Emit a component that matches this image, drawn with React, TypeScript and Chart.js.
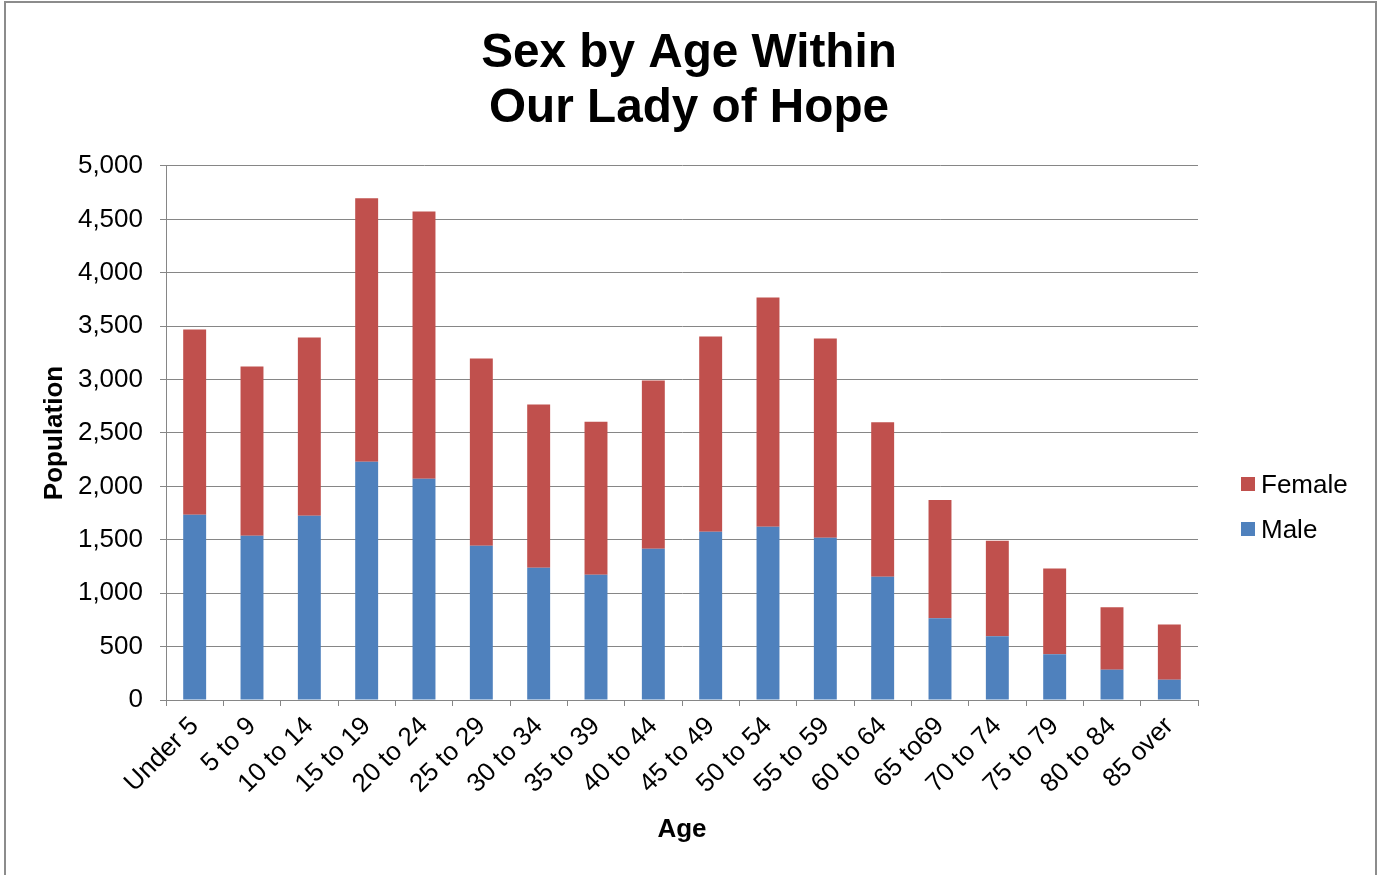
import React, { useEffect, useRef } from "react";
import { Chart, registerables } from "chart.js";

Chart.register(...registerables);

const categories = [
  "Under 5", "5 to 9", "10 to 14", "15 to 19", "20 to 24", "25 to 29",
  "30 to 34", "35 to 39", "40 to 44", "45 to 49", "50 to 54", "55 to 59",
  "60 to 64", "65 to69", "70 to 74", "75 to 79", "80 to 84", "85 over",
];

const maleValues = [
  1734, 1538, 1725, 2231, 2072, 1444, 1238, 1172, 1416, 1575, 1622, 1519,
  1153, 766, 597, 428, 284, 190,
];

const femaleValues = [
  1735, 1584, 1669, 2466, 2503, 1753, 1528, 1434, 1575, 1828, 2147, 1865,
  1447, 1106, 894, 803, 585, 516,
];

const titleLines = ["Sex by Age Within", "Our Lady of Hope"];
const seriesNames = { male: "Male", female: "Female" };
const colors = { male: "#4F81BD", female: "#C0504D" };

const FONT = "'Liberation Sans', Arial, Helvetica, sans-serif";
const GRID = "#868686";

export default function App() {
  const ref = useRef<HTMLCanvasElement>(null);

  useEffect(() => {
    document.body.style.margin = "0";
    const chart = new Chart(ref.current!, {
      type: "bar",
      data: {
        labels: categories,
        datasets: [
          {
            label: seriesNames.male,
            data: maleValues,
            backgroundColor: colors.male,
            categoryPercentage: 0.8,
            barPercentage: 0.5,
          },
          {
            label: seriesNames.female,
            data: femaleValues,
            backgroundColor: colors.female,
            categoryPercentage: 0.8,
            barPercentage: 0.5,
          },
        ],
      },
      options: {
        responsive: false,
        animation: false,
        layout: { padding: { left: 0, right: 0, top: 0, bottom: 30 } },
        plugins: {
          legend: { display: false },
          tooltip: { enabled: false },
          title: {
            display: true,
            text: titleLines,
            color: "#000",
            font: { family: FONT, size: 47.7, weight: "bold", lineHeight: 1.153 },
            padding: { top: 26.5, bottom: 29.5 },
          },
        },
        scales: {
          x: {
            stacked: true,
            grid: {
              display: true,
              drawOnChartArea: false,
              offset: true,
              tickLength: 6,
              color: GRID,
              lineWidth: 1,
            },
            border: { color: GRID, width: 1 },
            ticks: {
              color: "#000",
              font: { family: FONT, size: 26 },
              maxRotation: 45,
              minRotation: 45,
              autoSkip: false,
              padding: 5,
            },
            title: {
              display: true,
              text: "Age",
              color: "#000",
              font: { family: FONT, size: 26, weight: "bold" },
              padding: 0,
            },
            afterFit: (s: any) => {
              s.height = 145;
            },
          },
          y: {
            stacked: true,
            min: 0,
            max: 5000,
            grid: { color: GRID, tickLength: 6, lineWidth: 1 },
            border: { color: GRID, width: 1 },
            ticks: {
              stepSize: 500,
              color: "#000",
              font: { family: FONT, size: 26 },
              padding: 17,
              callback: (v: any) => Number(v).toLocaleString("en-US"),
            },
            title: {
              display: true,
              text: "Population",
              color: "#000",
              font: { family: FONT, size: 26, weight: "bold" },
              padding: { top: 39.4, bottom: 0 },
            },
            afterFit: (s: any) => {
              s.width = 166;
            },
          },
          legendSpace: {
            type: "linear",
            position: "right",
            display: true,
            grid: { display: false, drawTicks: false },
            border: { display: false },
            ticks: { display: false },
            afterFit: (s: any) => {
              s.width = 180;
            },
          },
        },
      },
    });
    return () => chart.destroy();
  }, []);

  const legendItems = [
    { name: seriesNames.female, color: colors.female, y: 484 },
    { name: seriesNames.male, color: colors.male, y: 529 },
  ];

  return (
    <div style={{ position: "relative", width: 1378, height: 875, overflow: "hidden", background: "#fff" }}>
      <canvas ref={ref} width={1378} height={875} style={{ position: "absolute", left: 0, top: 0 }} />
      <div
        style={{
          position: "absolute",
          left: 4,
          top: 1,
          width: 1369,
          height: 900,
          border: "2px solid #8c8c8c",
          pointerEvents: "none",
        }}
      />
      {legendItems.map((it) => (
        <div
          key={it.name}
          style={{
            position: "absolute",
            left: 1241,
            top: it.y - 16,
            height: 32,
            display: "flex",
            alignItems: "center",
            fontFamily: FONT,
            fontSize: 26,
            color: "#000",
            whiteSpace: "nowrap",
          }}
        >
          <span style={{ display: "inline-block", width: 14, height: 14, background: it.color, marginRight: 6 }} />
          <span>{it.name}</span>
        </div>
      ))}
    </div>
  );
}
